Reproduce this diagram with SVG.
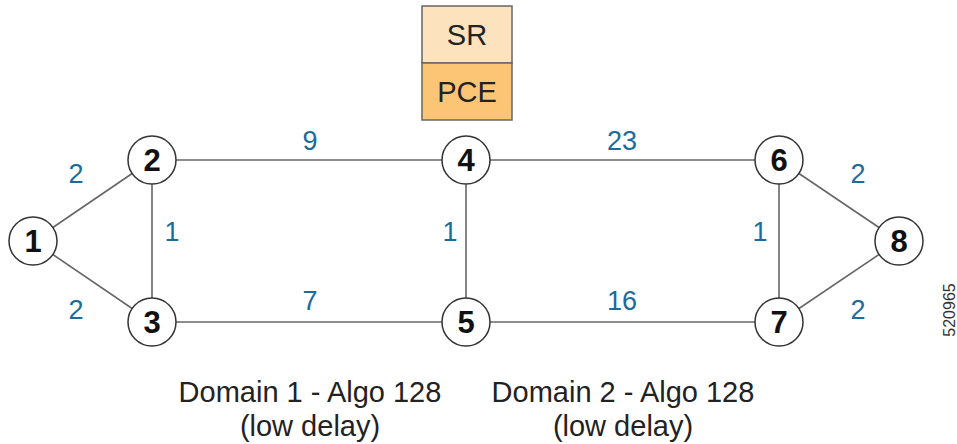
<svg xmlns="http://www.w3.org/2000/svg" width="957" height="444" viewBox="0 0 957 444">
<style>
.n{fill:#fff;stroke:#333;stroke-width:1.5}
.nt{font-family:"Liberation Sans",Arial,sans-serif;font-weight:bold;font-size:31px;fill:#111;text-anchor:middle}
.e{stroke:#666;stroke-width:1.6;fill:none}
.w{font-family:"Liberation Sans",Arial,sans-serif;font-size:27px;fill:#1a6c9c;text-anchor:middle}
.t{font-family:"Liberation Sans",Arial,sans-serif;font-size:29px;fill:#222;text-anchor:middle}
.b{stroke:#666;stroke-width:1.5}
</style>
<rect width="957" height="444" fill="#fff"/>
<g id="pce">
<rect x="422" y="6" width="90" height="57" fill="#fde3bd" class="b"/>
<rect x="422" y="63" width="90" height="57" fill="#fbc575" class="b"/>
<text x="467" y="45" class="t">SR</text>
<text x="467" y="102" class="t">PCE</text>
</g>
<g id="connectors">
<line class="e" x1="33" y1="241" x2="152" y2="160"/>
<line class="e" x1="33" y1="241" x2="152" y2="322"/>
<line class="e" x1="152" y1="160" x2="152" y2="322"/>
<line class="e" x1="152" y1="160" x2="466" y2="160"/>
<line class="e" x1="152" y1="322" x2="466" y2="322"/>
<line class="e" x1="466" y1="160" x2="466" y2="322"/>
<line class="e" x1="466" y1="160" x2="779" y2="160"/>
<line class="e" x1="466" y1="322" x2="779" y2="322"/>
<line class="e" x1="779" y1="160" x2="779" y2="322"/>
<line class="e" x1="779" y1="160" x2="899" y2="241"/>
<line class="e" x1="779" y1="322" x2="899" y2="241"/>
<text class="w" x="76" y="183">2</text>
<text class="w" x="76" y="319">2</text>
<text class="w" x="172" y="241">1</text>
<text class="w" x="310" y="150">9</text>
<text class="w" x="310" y="310">7</text>
<text class="w" x="450" y="241">1</text>
<text class="w" x="622" y="150">23</text>
<text class="w" x="622" y="310">16</text>
<text class="w" x="760" y="241">1</text>
<text class="w" x="858" y="183">2</text>
<text class="w" x="858" y="319">2</text>
</g>
<g id="node1"><circle class="n" cx="33" cy="241" r="24"/><text class="nt" x="33" y="252">1</text></g>
<g id="node2"><circle class="n" cx="152" cy="160" r="24"/><text class="nt" x="152" y="171">2</text></g>
<g id="node3"><circle class="n" cx="152" cy="322" r="24"/><text class="nt" x="152" y="333">3</text></g>
<g id="node4"><circle class="n" cx="466" cy="160" r="24"/><text class="nt" x="466" y="171">4</text></g>
<g id="node5"><circle class="n" cx="466" cy="322" r="24"/><text class="nt" x="466" y="333">5</text></g>
<g id="node6"><circle class="n" cx="779" cy="160" r="24"/><text class="nt" x="779" y="171">6</text></g>
<g id="node7"><circle class="n" cx="779" cy="322" r="24"/><text class="nt" x="779" y="333">7</text></g>
<g id="node8"><circle class="n" cx="899" cy="241" r="24"/><text class="nt" x="899" y="252">8</text></g>
<g id="labels">
<text class="t" x="310" y="402">Domain 1 - Algo 128</text>
<text class="t" x="310" y="436">(low delay)</text>
<text class="t" x="623" y="402">Domain 2 - Algo 128</text>
<text class="t" x="623" y="436">(low delay)</text>
<text x="955" y="310" transform="rotate(-90 955 310)" font-family="'Liberation Sans',Arial,sans-serif" font-size="16" fill="#333" text-anchor="middle">520965</text>
</g>
</svg>
